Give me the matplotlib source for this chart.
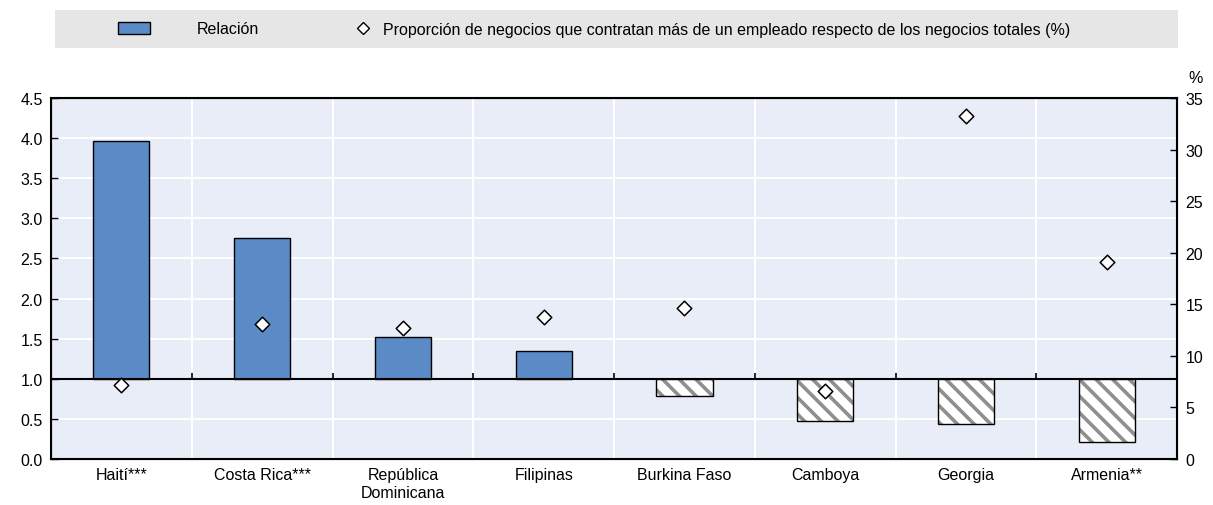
import matplotlib
matplotlib.use('Agg')
import matplotlib.pyplot as plt
import numpy as np
from matplotlib.patches import Rectangle
from matplotlib.lines import Line2D

plt.rcParams['font.family'] = ['Liberation Sans Narrow', 'Liberation Sans', 'DejaVu Sans']
plt.rcParams['font.size'] = 11.5
plt.rcParams['hatch.linewidth'] = 2.6

countries = ['Haití***', 'Costa Rica***', 'República\nDominicana', 'Filipinas',
             'Burkina Faso', 'Camboya', 'Georgia', 'Armenia**']
ratio = [3.97, 2.76, 1.52, 1.35, 0.79, 0.47, 0.44, 0.21]
share = [7.2, 13.1, 12.7, 13.8, 14.6, 6.6, 33.3, 19.1]

fig = plt.figure(figsize=(12.13, 5.06), dpi=100)
ax = fig.add_axes([0.042, 0.0909, 0.9285, 0.7134])
ax.set_facecolor('#E9EDF7')

x = np.arange(len(countries))
base = 1.0
for i, v in enumerate(ratio):
    if v >= base:
        ax.bar(x[i], v - base, bottom=base, width=0.4, color='#5B8BC6',
               edgecolor='black', linewidth=1, zorder=3)
    else:
        # gray hatch, then black outline on top
        ax.bar(x[i], v - base, bottom=base, width=0.4, color='white',
               edgecolor='#8f8f8f', linewidth=0, hatch='\\\\', zorder=3)
        ax.bar(x[i], v - base, bottom=base, width=0.4, fill=False,
               edgecolor='black', linewidth=1, zorder=3)

ax.set_xlim(-0.5, len(countries) - 0.5)
ax.set_ylim(0, 4.5)
ax.set_yticks(np.arange(0, 4.51, 0.5))
ax.set_yticklabels([f'{t:.1f}' for t in np.arange(0, 4.51, 0.5)])
ax.set_xticks(x)
ax.set_xticklabels(countries)
ax.tick_params(axis='x', length=0, pad=6)
ax.tick_params(axis='y', direction='in', length=5, width=1, pad=6)
ax.grid(axis='y', color='white', linewidth=1.5, zorder=0)
for b in x[:-1] + 0.5:
    ax.axvline(b, color='white', linewidth=1.5, zorder=0)
    ax.vlines(b, base, base + 0.07, color='black', linewidth=1.2, zorder=4)
ax.axhline(base, color='black', linewidth=1.5, zorder=4)
for s in ax.spines.values():
    s.set_linewidth(1.5)

ax2 = ax.twinx()
ax2.set_ylim(0, 35)
ax2.set_yticks(np.arange(0, 36, 5))
ax2.tick_params(axis='y', direction='in', length=5, width=1, pad=6)
ax2.scatter(x, share, marker='D', s=55, facecolor='white', edgecolor='black',
            linewidth=1.1, zorder=5)
ax2.text(1.0 + 18 / 1213 / 0.9285, 1.035, '%', transform=ax2.transAxes,
         ha='center', va='bottom', fontsize=11.5)

# legend band
fig.patches.append(Rectangle((55 / 1213, 1 - 49 / 506), 1123 / 1213, 38 / 506,
                             transform=fig.transFigure, facecolor='#E6E6E6',
                             edgecolor='none', zorder=0))
h1 = Rectangle((0, 0), 1, 1, facecolor='#5B8BC6', edgecolor='black', linewidth=1)
h2 = Line2D([], [], marker='D', linestyle='none', markersize=6,
            markerfacecolor='white', markeredgecolor='black')
fig.legend([h1], ['Relación'], loc='center left',
           bbox_to_anchor=(118 / 1213, 1 - 30 / 506), frameon=False,
           borderpad=0, borderaxespad=0, handlelength=2.0,
           handleheight=0.8, handletextpad=2.9, fontsize=11.5)
fig.legend([h2], ['Proporción de negocios que contratan más de un empleado respecto de los negocios totales (%)'],
           loc='center left', bbox_to_anchor=(355 / 1213, 1 - 30 / 506),
           frameon=False, borderpad=0, borderaxespad=0, handlelength=1.0,
           handletextpad=0.75, fontsize=11.5)

fig.savefig('out.png', dpi=100)
